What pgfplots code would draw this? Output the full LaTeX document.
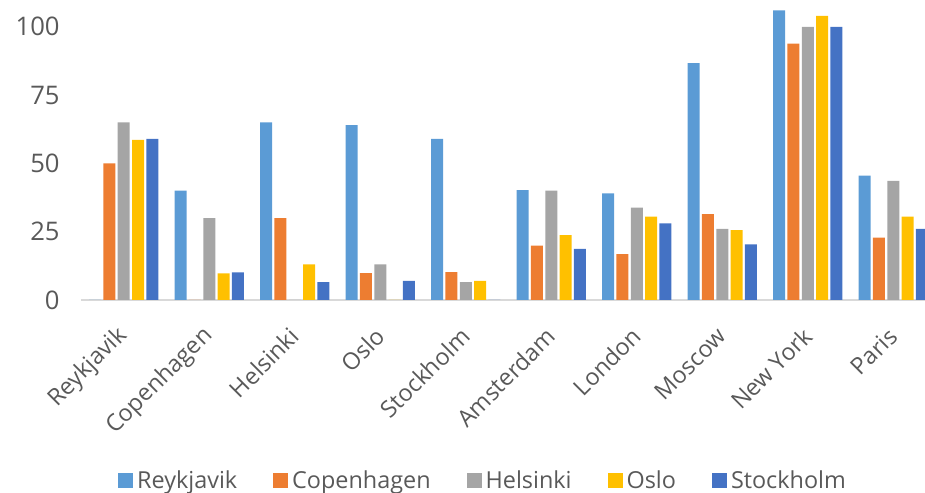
\documentclass[border=0pt]{standalone}
\usepackage{fontspec}
\setmainfont{Open Sans}
\usepackage{pgfplots}
\pgfplotsset{compat=1.18}
\definecolor{cA}{HTML}{5B9BD5}
\definecolor{cB}{HTML}{ED7D31}
\definecolor{cC}{HTML}{A5A5A5}
\definecolor{cD}{HTML}{FFC000}
\definecolor{cE}{HTML}{4472C4}
\definecolor{txt}{HTML}{595959}
\definecolor{axl}{HTML}{D9D9D9}
\begin{document}
\begin{tikzpicture}[font=\fontsize{11.7pt}{14pt}\selectfont]
\begin{axis}[
  scale only axis, width=422pt, height=150pt,
  xmin=-0.5, xmax=9.371, ymin=0, ymax=109.8,
  ybar=1.15pt, bar width=6pt,
  axis x line*=bottom, axis y line*=left,
  x axis line style={draw=axl, line width=1pt, -},
  y axis line style={draw=none},
  major tick length=0pt,
  ytick={0,25,50,75,100},
  xtick={0,...,9},
  xticklabels={Reykjavik,Copenhagen,Helsinki,Oslo,Stockholm,Amsterdam,London,Moscow,New York,Paris},
  yticklabel style={text=txt, anchor=east, inner sep=0pt, xshift=-10.5pt, font=\fontsize{12.8pt}{15pt}\selectfont},
  xticklabel style={text=txt, rotate=45, anchor=east, inner sep=0pt},
  xticklabel shift=16pt,
  /pgf/number format/assume math mode=true,
  clip=true,
  legend columns=5,
  legend style={at={(0.4775,-0.603)}, anchor=center, draw=none, fill=none, text=txt,
    /tikz/every even column/.append style={column sep=16pt}},
  legend image code/.code={\fill[#1] (0pt,-3.75pt) rectangle (7.5pt,3.75pt);},
  every axis plot/.append style={draw=none},
]
\addplot[fill=cA] coordinates {(0,0) (1,40) (2,65) (3,64) (4,59) (5,40.2) (6,39) (7,86.7) (8,106) (9,45.5)};
\addplot[fill=cB] coordinates {(0,50) (1,0) (2,30) (3,9.8) (4,10.2) (5,19.9) (6,16.8) (7,31.4) (8,93.8) (9,22.8)};
\addplot[fill=cC] coordinates {(0,65) (1,30) (2,0) (3,13) (4,6.5) (5,40) (6,33.8) (7,26) (8,100) (9,43.6)};
\addplot[fill=cD] coordinates {(0,58.6) (1,9.7) (2,13) (3,0) (4,7) (5,23.7) (6,30.5) (7,25.6) (8,104) (9,30.5)};
\addplot[fill=cE] coordinates {(0,59) (1,10.1) (2,6.5) (3,7) (4,0) (5,18.7) (6,28) (7,20.4) (8,100) (9,26)};
\legend{Reykjavik,Copenhagen,Helsinki,Oslo,Stockholm}
\end{axis}
\pgfresetboundingbox
\path[use as bounding box] ([xshift=-40.5pt,yshift=-96.5pt]current axis.south west) rectangle (current axis.north east);
\end{tikzpicture}
\end{document}
